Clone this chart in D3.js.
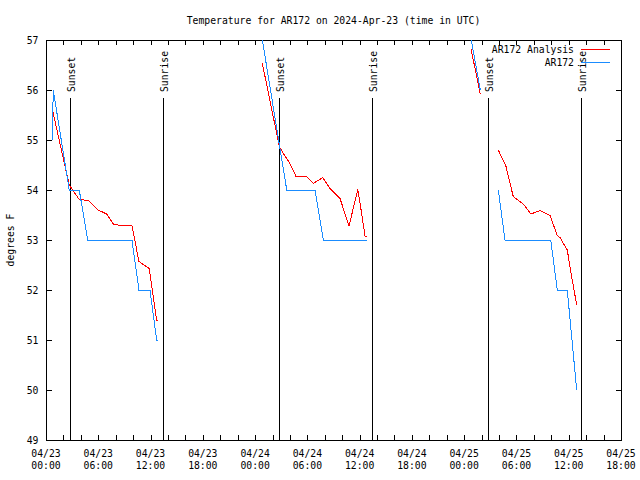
<!DOCTYPE html>
<html><head><meta charset="utf-8">
<script src="https://cdn.jsdelivr.net/npm/d3@7"></script>
<style>body{margin:0;background:#fff}svg{display:block}</style>
</head><body>
<svg id="c" width="640" height="480"></svg>
<script>
const title = "Temperature for AR172 on 2024-Apr-23 (time in UTC)";
const yLabel = "degrees F";
const seriesNames = ["AR172 Analysis", "AR172"];
const seriesColors = ["#ff0000", "#1a8cff"];
const yTicks = [49, 50, 51, 52, 53, 54, 55, 56, 57];
const xDomain = ["2024-04-23 00:00", "2024-04-25 18:00"];
const sunLabels = ["Sunset", "Sunrise", "Sunset", "Sunrise", "Sunset", "Sunrise"];
const sunTimes = ["2024-04-23 02:45", "2024-04-23 13:26", "2024-04-24 02:45", "2024-04-24 13:25", "2024-04-25 02:44", "2024-04-25 13:25"];

// AR172 Analysis (null = gap)
const analysisTimes = [
  "2024-04-23 00:43", "2024-04-23 02:40", "2024-04-23 03:49", "2024-04-23 04:51", "2024-04-23 06:00",
  "2024-04-23 06:58", "2024-04-23 07:44", "2024-04-23 08:29", "2024-04-23 09:52", "2024-04-23 10:40",
  "2024-04-23 11:51", "2024-04-23 12:42", "2024-04-23 12:53",
  "2024-04-23 18:00",
  "2024-04-24 00:50", "2024-04-24 02:47", "2024-04-24 03:14", "2024-04-24 04:00", "2024-04-24 04:42",
  "2024-04-24 05:55", "2024-04-24 06:41", "2024-04-24 07:46", "2024-04-24 08:36", "2024-04-24 09:45",
  "2024-04-24 10:47", "2024-04-24 11:47", "2024-04-24 12:14", "2024-04-24 12:37", "2024-04-24 12:53",
  "2024-04-24 18:00",
  "2024-04-25 00:47", "2024-04-25 01:51",
  "2024-04-25 03:00",
  "2024-04-25 03:55", "2024-04-25 04:48", "2024-04-25 05:04", "2024-04-25 05:38", "2024-04-25 06:47",
  "2024-04-25 07:40", "2024-04-25 08:42", "2024-04-25 09:51", "2024-04-25 10:41", "2024-04-25 11:00",
  "2024-04-25 11:50", "2024-04-25 12:20", "2024-04-25 12:55"
];
const analysisTemps = [
  55.62, 54.10, 53.81, 53.79, 53.60,
  53.52, 53.32, 53.29, 53.29, 52.57,
  52.43, 51.40, 51.38,
  null,
  56.53, 54.87, 54.73, 54.53, 54.27,
  54.27, 54.13, 54.25, 54.03, 53.83,
  53.28, 54.01, 53.53, 53.08, 53.07,
  null,
  56.82, 55.92,
  null,
  54.80, 54.47, 54.27, 53.87, 53.72,
  53.52, 53.59, 53.49, 53.09, 53.05,
  52.80, 52.27, 51.70
];

// AR172 observations (null = gap)
const obsTimes = [
  "2024-04-23 00:43", "2024-04-23 00:50", "2024-04-23 02:40", "2024-04-23 03:49", "2024-04-23 04:47",
  "2024-04-23 09:52", "2024-04-23 10:40", "2024-04-23 11:56", "2024-04-23 12:42", "2024-04-23 12:53",
  "2024-04-23 18:00",
  "2024-04-24 00:50", "2024-04-24 03:38", "2024-04-24 06:53", "2024-04-24 07:50", "2024-04-24 12:53",
  "2024-04-24 18:00",
  "2024-04-25 00:49", "2024-04-25 01:51",
  "2024-04-25 03:00",
  "2024-04-25 03:55", "2024-04-25 04:41", "2024-04-25 09:56", "2024-04-25 10:41", "2024-04-25 11:50",
  "2024-04-25 12:55"
];
const obsTemps = [
  55, 56, 54, 54, 53,
  53, 52, 52, 51, 51,
  null,
  57, 54, 54, 53, 53,
  null,
  57, 56,
  null,
  54, 53, 53, 52, 52,
  50
];

const parse = d3.utcParse("%Y-%m-%d %H:%M");
const W = 640, H = 480;
const m = {left: 46, right: 621, top: 40, bottom: 440};
const font = "'DejaVu Sans Mono', monospace";
const fs = 9.75;

const x = d3.scaleUtc().domain(xDomain.map(parse)).range([m.left, m.right]);
const y = d3.scaleLinear().domain([49, 57]).range([m.bottom, m.top]);

const svg = d3.select("#c");
svg.append("rect").attr("width", W).attr("height", H).attr("fill", "#fff");

svg.append("defs").append("clipPath").attr("id", "clip")
  .append("rect").attr("x", m.left).attr("y", m.top)
  .attr("width", m.right - m.left).attr("height", m.bottom - m.top);

// Title
svg.append("text").attr("x", (m.left + m.right) / 2).attr("y", 20.5)
  .attr("text-anchor", "middle").attr("dominant-baseline", "middle")
  .style("font-family", font).style("font-size", fs + "px").text(title);

// Y label
svg.append("text").attr("transform", `translate(11,${(m.top + m.bottom) / 2}) rotate(-90)`)
  .attr("text-anchor", "middle").attr("dominant-baseline", "middle")
  .style("font-family", font).style("font-size", fs + "px").text(yLabel);

// Axes
const xTickVals = d3.utcHour.every(2).range(x.domain()[0], new Date(+x.domain()[1] + 1));
const xLabelVals = d3.utcHour.every(6).range(x.domain()[0], new Date(+x.domain()[1] + 1));

function styleAxis(g) {
  g.selectAll("path,line").attr("stroke", "#000").attr("shape-rendering", "crispEdges");
  g.selectAll("text").style("font-family", font).style("font-size", fs + "px").attr("fill", "#000");
}

svg.append("g").attr("transform", `translate(0,${m.bottom})`)
  .call(d3.axisBottom(x).tickValues(xTickVals).tickSizeInner(-5).tickSizeOuter(0).tickFormat(""))
  .call(styleAxis);
svg.append("g").attr("transform", `translate(0,${m.top})`)
  .call(d3.axisTop(x).tickValues(xTickVals).tickSizeInner(-5).tickSizeOuter(0).tickFormat(""))
  .call(styleAxis);
svg.append("g").attr("transform", `translate(${m.left},0)`)
  .call(d3.axisLeft(y).tickValues(yTicks).tickSizeInner(-6).tickSizeOuter(0).tickPadding(7.5).tickFormat(d3.format("d")))
  .call(styleAxis);
svg.append("g").attr("transform", `translate(${m.right},0)`)
  .call(d3.axisRight(y).tickValues(yTicks).tickSizeInner(-5).tickSizeOuter(0).tickFormat(""))
  .call(styleAxis);

// X labels (two lines)
const fmtD = d3.utcFormat("%m/%d"), fmtT = d3.utcFormat("%H:%M");
const xl = svg.append("g").style("font-family", font).style("font-size", fs + "px");
xLabelVals.forEach(d => {
  const t = xl.append("text").attr("text-anchor", "middle");
  t.append("tspan").attr("x", x(d)).attr("y", 457).text(fmtD(d));
  t.append("tspan").attr("x", x(d)).attr("y", 469).text(fmtT(d));
});

// Sun lines
sunTimes.forEach((s, i) => {
  const px = Math.round(x(parse(s))) + 0.5;
  svg.append("line").attr("x1", px).attr("x2", px).attr("y1", 98).attr("y2", m.bottom)
    .attr("stroke", "#000").attr("shape-rendering", "crispEdges");
  svg.append("text").attr("transform", `translate(${px + 4.5},92) rotate(-90)`)
    .attr("text-anchor", "start")
    .style("font-family", font).style("font-size", fs + "px").text(sunLabels[i]);
});

// Series
const plot = svg.append("g").attr("clip-path", "url(#clip)");
const line = d3.line().defined(d => d.v != null).x(d => x(d.t)).y(d => y(d.v));
const analysis = analysisTimes.map((t, i) => ({t: parse(t), v: analysisTemps[i]}));
const obs = obsTimes.map((t, i) => ({t: parse(t), v: obsTemps[i]}));
plot.append("path").datum(analysis).attr("d", line).attr("fill", "none")
  .attr("stroke", seriesColors[0]).attr("stroke-width", 1).attr("shape-rendering", "crispEdges");
plot.append("path").datum(obs).attr("d", line).attr("fill", "none")
  .attr("stroke", seriesColors[1]).attr("stroke-width", 1).attr("shape-rendering", "crispEdges");

// Legend
seriesNames.forEach((n, i) => {
  const ly = 49.5 + i * 13;
  svg.append("text").attr("x", 574).attr("y", ly).attr("text-anchor", "end")
    .attr("dominant-baseline", "middle")
    .style("font-family", font).style("font-size", fs + "px").text(n);
  svg.append("line").attr("x1", 581).attr("x2", 610).attr("y1", ly).attr("y2", ly)
    .attr("stroke", seriesColors[i]).attr("shape-rendering", "crispEdges");
});
</script>
</body></html>
